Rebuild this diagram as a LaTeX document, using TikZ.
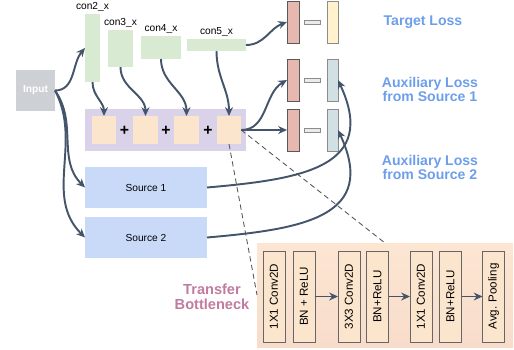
\documentclass[tikz,border=0pt]{standalone}
\usepackage{fontspec}
\setmainfont{Liberation Sans}
\usetikzlibrary{arrows.meta}

\definecolor{inputc}{HTML}{CDD1D6}
\definecolor{convc}{HTML}{D9EAD3}
\definecolor{sumc}{HTML}{D9D2E9}
\definecolor{featc}{HTML}{FCE5CD}
\definecolor{srcc}{HTML}{C9DAF8}
\definecolor{predc}{HTML}{E6B8AF}
\definecolor{tgtc}{HTML}{FFF2CC}
\definecolor{auxc}{HTML}{D0E0E3}
\definecolor{arrowc}{HTML}{44546A}
\definecolor{lossc}{HTML}{6D9EEB}
\definecolor{tbc}{HTML}{C27BA0}
\definecolor{bntop}{HTML}{FCE6D2}
\definecolor{bnbot}{HTML}{F8DCCB}

\newcommand{\fsz}[1]{\fontsize{#1}{#1}\selectfont}

\begin{document}
\begin{tikzpicture}[x=0.02cm,y=0.02cm,
  blk/.style={inner sep=0pt,outer sep=0pt,text=black},
  conv/.style={blk,fill=convc},
  feat/.style={blk,fill=featc,minimum width=24.5*0.02cm,minimum height=28*0.02cm},
  src/.style={blk,fill=srcc,minimum width=122*0.02cm,minimum height=41*0.02cm,font=\fsz{5.8}},
  pred/.style={blk,fill=predc,draw=black!65,line width=0.5pt,minimum width=12*0.02cm,minimum height=42*0.02cm},
  gt/.style={blk,draw=black!45,line width=0.5pt,minimum width=11*0.02cm,minimum height=42*0.02cm},
  minus/.style={blk,fill=black!8,draw=black!45,line width=0.4pt,minimum width=16*0.02cm,minimum height=4*0.02cm},
  layer/.style={blk,fill=featc,draw=black!60,line width=0.5pt,minimum width=22*0.02cm,minimum height=91*0.02cm},
  lname/.style={rotate=90,font=\fsz{6.6}},
  lbl/.style={font=\fsz{5.8},inner sep=1pt},
  loss/.style={text=lossc,font=\bfseries\fsz{8},align=center},
  arr/.style={draw=arrowc,line width=1.1pt,-{Stealth[length=5pt,width=4.5pt]}},
  link/.style={draw=black!65,line width=0.5pt,dash pattern=on 3pt off 2pt}
  ]
\useasboundingbox (0,0) rectangle (514,-349);

\node[blk,fill=inputc,minimum width=39*0.02cm,minimum height=41*0.02cm,text=white,font=\bfseries\fsz{5.8}] (in) at (35.5,-90.5) {Input};

\node[conv,minimum width=15*0.02cm,minimum height=68*0.02cm] (c2) at (92.5,-48) {};
\node[conv,minimum width=25*0.02cm,minimum height=37*0.02cm] (c3) at (120.5,-48.5) {};
\node[conv,minimum width=40*0.02cm,minimum height=23*0.02cm] (c4) at (161,-47.5) {};
\node[conv,minimum width=59*0.02cm,minimum height=12*0.02cm] (c5) at (216.5,-45) {};
\node[lbl,above] at (c2.north) {con2\_x};
\node[lbl,above] at (c3.north) {con3\_x};
\node[lbl,above] at (c4.north) {con4\_x};
\node[lbl,above] at (c5.north) {con5\_x};

\node[blk,fill=sumc,minimum width=161*0.02cm,minimum height=42*0.02cm] (sum) at (165.5,-130) {};
\node[feat] (s1) at (104,-130) {};
\node[feat] (s2) at (145.5,-130) {};
\node[feat] (s3) at (186.5,-130) {};
\node[feat] (s4) at (229,-130) {};
\node[font=\bfseries\fsz{9}] (p1) at (124.5,-131) {+};
\node[font=\bfseries\fsz{9}] (p2) at (166,-131) {+};
\node[font=\bfseries\fsz{9}] (p3) at (208,-131) {+};

\node[src] (src1) at (146,-187.5) {Source 1};
\node[src] (src2) at (146,-237.5) {Source 2};

\node[pred] (r1) at (293,-22) {};
\node[pred] (r2) at (293,-80) {};
\node[pred] (r3) at (293,-130) {};
\node[minus] (m1) at (312,-22) {};
\node[minus] (m2) at (312,-80) {};
\node[minus] (m3) at (312,-130) {};
\node[gt,fill=tgtc] (g1) at (332.5,-22) {};
\node[gt,fill=auxc] (g2) at (332.5,-80) {};
\node[gt,fill=auxc] (g3) at (332.5,-130) {};

\node[loss] (tl) at (423,-22) {Target Loss};
\node[loss] (al1) at (430,-89) {Auxiliary Loss\\from Source 1};
\node[loss] (al2) at (430,-167.5) {Auxiliary Loss\\from Source 2};

% transfer bottleneck
\node[blk,top color=bntop,bottom color=bnbot,minimum width=256*0.02cm,minimum height=104*0.02cm] (bn) at (385,-295) {};
\node[layer] (b1) at (274,-296.5) {};
\node[layer] (b2) at (304,-296.5) {};
\node[layer] (b3) at (349,-296.5) {};
\node[layer] (b4) at (377.5,-296.5) {};
\node[layer] (b5) at (421,-296.5) {};
\node[layer] (b6) at (450.5,-296.5) {};
\node[layer] (b7) at (493.5,-296.5) {};
\node[lname] at (b1) {1X1 Conv2D};
\node[lname] at (b2) {BN + ReLU};
\node[lname] at (b3) {3X3 Conv2D};
\node[lname] at (b4) {BN+ReLU};
\node[lname] at (b5) {1X1 Conv2D};
\node[lname] at (b6) {BN+ReLU};
\node[lname] at (b7) {Avg. Pooling};
\node[text=tbc,font=\bfseries\fsz{8.3},align=center] (tb) at (212,-297) {Transfer\\Bottleneck};

\draw[arr] (b2) -- (b3);
\draw[arr] (b4) -- (b5);
\draw[arr] (b6) -- (b7);

\draw[link] (s4.south) -- (bn.west);
\draw[link] (s4.east) -- (bn.north);

\draw[arr] (in.east) to[out=0,in=230] (c2.west);
\draw[arr] (in.east) to[out=-55,in=135] (src1.west);
\draw[arr] (in.east) to[out=-62,in=135] (src2.west);

\draw[arr] (c2.south) to[out=-90,in=90] (s1.north);
\draw[arr] (c3.south) to[out=-90,in=90] (s2.north);
\draw[arr] (c4.south) to[out=-90,in=90] (s3.north);
\draw[arr] (c5.south) to[out=-90,in=90] (s4.north);

\draw[arr] (c5.east) to[out=0,in=200] (r1.west);
\draw[arr] (s4.east) to[out=0,in=210] (r2.west);
\draw[arr] (s4.east) -- (r3.west);

\draw[arr] (src1.east) to[out=5,in=-65,looseness=1.45] (g2.east);
\draw[arr] (src2.east) to[out=5,in=-65,looseness=1.45] (g3.east);
\end{tikzpicture}
\end{document}
